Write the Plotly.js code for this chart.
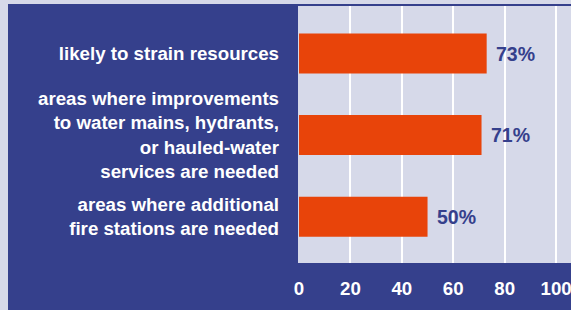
<!DOCTYPE html>
<html>
<head>
<meta charset="utf-8">
<script src="https://cdn.plot.ly/plotly-3.0.1.min.js"></script>
<style>html,body{margin:0;padding:0;background:#d6d9e9;}#chart{width:571px;height:310px;}</style>
</head>
<body>
<div id="chart"></div>
<script>
var categories = [
  'likely to strain resources',
  'areas where improvements<br>to water mains, hydrants,<br>or hauled-water<br>services are needed',
  'areas where additional<br>fire stations are needed'
];
var values = [73, 71, 50];
var valueLabels = ['73%', '71%', '50%'];
var xTicks = [0, 20, 40, 60, 80, 100];

var BLUE = '#35408c', LAV = '#d6d9e9', ORANGE = '#e8440a';
var W = 571, H = 310, L = 299, R = 0, T = 6, B = 47;
var pw = W - L - R, ph = H - T - B;
function px(x){ return (x - L) / pw; }
function py(y){ return (H - B - y) / ph; }

var font = {family: '"Liberation Sans", Arial, sans-serif', size: 18.7, color: '#ffffff', weight: 'bold'};

var trace = {
  type: 'bar', orientation: 'h',
  y: categories, x: values,
  width: 0.49,
  marker: {color: ORANGE, line: {width: 0}},
  hoverinfo: 'none'
};

var annotations = values.map(function(v, i){
  return {x: v, y: categories[i], xref: 'x', yref: 'y', text: valueLabels[i],
    showarrow: false, xanchor: 'left', yanchor: 'middle', xshift: 7,
    font: {family: font.family, size: 19.5, color: BLUE, weight: 'bold'}};
});

var layout = {
  width: W, height: H,
  margin: {l: L, r: R, t: T, b: B, pad: 0},
  paper_bgcolor: BLUE, plot_bgcolor: LAV,
  showlegend: false,
  font: font,
  xaxis: {range: [0, 105.8], tickvals: xTicks, ticktext: xTicks.map(String),
    showgrid: true, gridcolor: '#ffffff', gridwidth: 2,
    zeroline: true, zerolinecolor: LAV, zerolinewidth: 2,
    showline: false, ticks: '', ticklabelstandoff: 12, ticklabeloverflow: 'allow',
    tickfont: font, fixedrange: true},
  yaxis: {type: 'category', range: [2.567, -0.582], autorange: false,
    showgrid: false, zeroline: false, showline: false, ticks: '',
    ticklabelstandoff: 19, tickfont: font, fixedrange: true},
  annotations: annotations,
  shapes: [
    {type: 'rect', xref: 'paper', yref: 'paper', x0: px(0), x1: px(8), y0: py(H), y1: py(0),
     fillcolor: LAV, line: {width: 0}, layer: 'above'},
    {type: 'rect', xref: 'paper', yref: 'paper', x0: px(0), x1: px(W), y0: py(4), y1: py(0),
     fillcolor: LAV, line: {width: 0}, layer: 'above'}
  ]
};

Plotly.newPlot('chart', [trace], layout, {displayModeBar: false, staticPlot: true});
</script>
</body>
</html>
